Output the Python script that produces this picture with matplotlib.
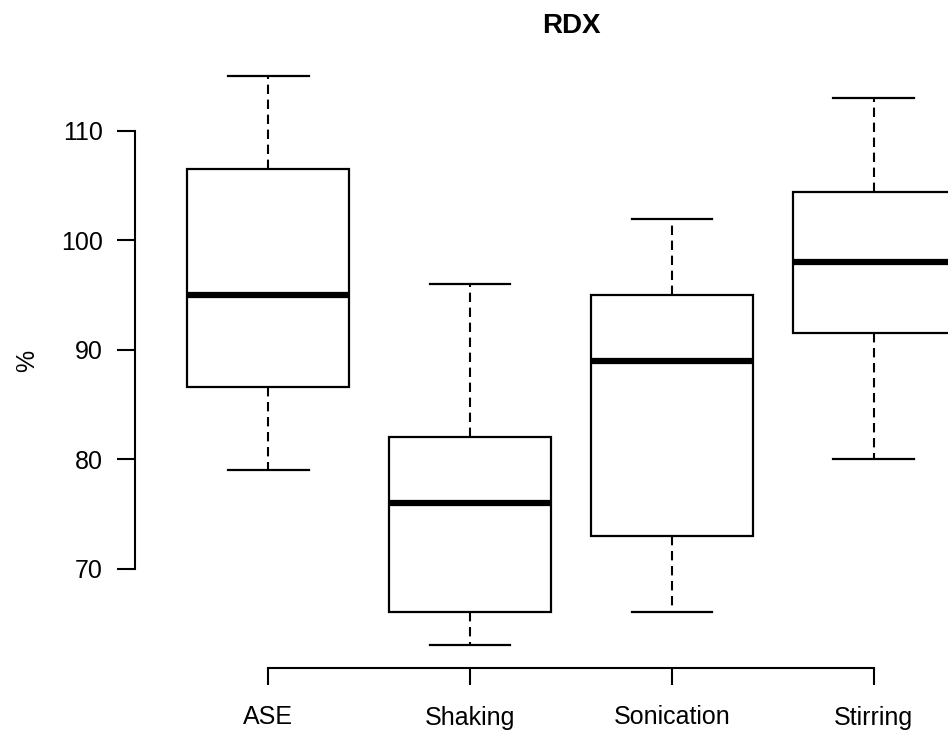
import matplotlib
matplotlib.use("Agg")
import matplotlib.pyplot as plt

plt.rcParams['font.family'] = ['Liberation Sans', 'DejaVu Sans']

# box statistics
metodos = ['ASE', 'Shaking', 'Sonication', 'Stirring']
minimo = [79, 63, 66, 80]
q1 = [86.6, 66, 73, 91.5]
mediana = [95, 76, 89, 98]
q3 = [106.5, 82, 95, 104.4]
maximo = [115, 96, 102, 113]

stats = []
for i in range(len(metodos)):
    stats.append({'label': metodos[i], 'whislo': minimo[i], 'q1': q1[i],
                  'med': mediana[i], 'q3': q3[i], 'whishi': maximo[i]})

fig = plt.figure(figsize=(9.48, 7.33), dpi=100)
# axes runs past the right edge, as in the cropped original
ax = fig.add_axes([135 / 948, 1 - 668 / 733, 872 / 948, 614.5 / 733])

ax.bxp(stats, positions=range(1, 5), widths=0.8, showfliers=False,
       patch_artist=True,
       boxprops=dict(facecolor='white', edgecolor='black', linewidth=1.6),
       medianprops=dict(color='black', linewidth=4.5, solid_capstyle='butt'),
       whiskerprops=dict(color='black', linewidth=1.5, linestyle=(0, (4.5, 2.7)),
                         dash_capstyle='butt'),
       capprops=dict(color='black', linewidth=1.6), capwidths=0.4)

ax.set_xlim(0.34, 4.66)
ax.set_ylim(60.92, 117.08)

for s in ['top', 'right']:
    ax.spines[s].set_visible(False)
ax.spines['left'].set_bounds(70, 110)
ax.spines['bottom'].set_bounds(1, 4)
ax.spines['left'].set_linewidth(1.5)
ax.spines['bottom'].set_linewidth(1.5)

ax.set_yticks([70, 80, 90, 100, 110])
ax.set_xticks(range(1, 5))
ax.set_xticklabels(metodos)
ax.tick_params(axis='y', length=13, width=1.5, pad=10, labelsize=18)
ax.tick_params(axis='x', length=12, width=1.5, pad=15, labelsize=18)

ax.set_title('RDX', fontsize=20, fontweight='bold', pad=15)
ax.set_ylabel('%', fontsize=18)
ax.yaxis.set_label_coords(-96 / 872, 0.5)

fig.savefig('out.png', dpi=100)
